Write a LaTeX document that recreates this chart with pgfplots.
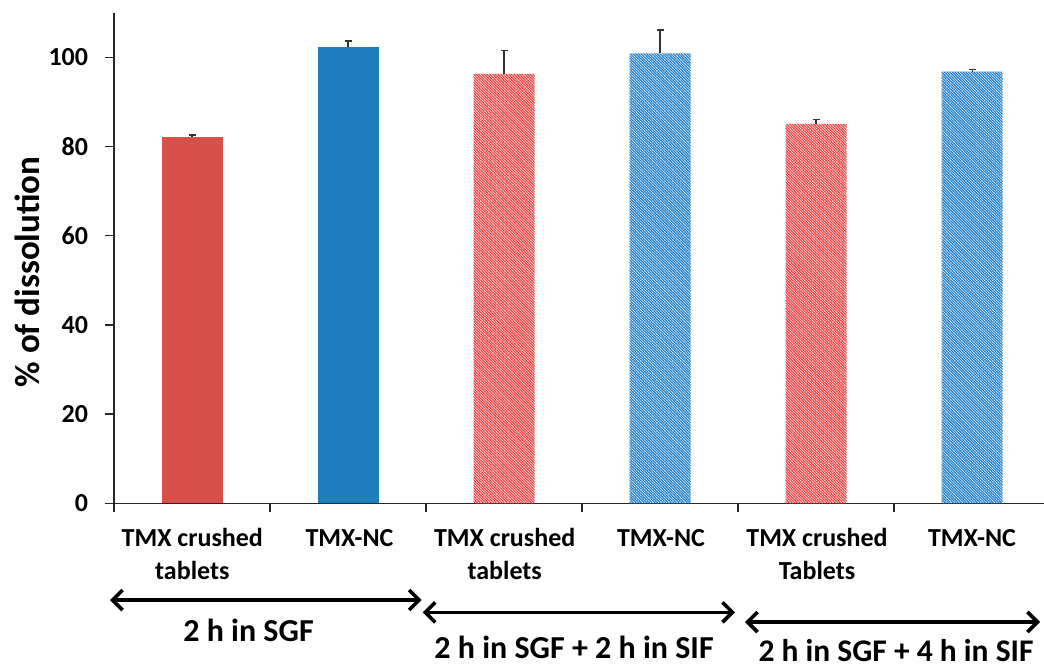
\documentclass[border=0pt]{standalone}
\usepackage{fontspec}
\setmainfont{Carlito}
\usepackage{pgfplots}
\pgfplotsset{compat=1.18}
\usetikzlibrary{arrows.meta,patterns.meta}
\definecolor{cred}{RGB}{217,80,74}
\definecolor{cblue}{RGB}{30,125,188}
\definecolor{hred}{RGB}{236,72,72}
\definecolor{hblue}{RGB}{38,130,204}
\begin{document}
\begin{tikzpicture}
\useasboundingbox (0pt,0pt) rectangle (1044pt,-670pt);
\begin{axis}[
  at={(114pt,-503.3pt)}, anchor=south west,
  scale only axis, width=930pt, height=490.6pt,
  xmin=-0.5, xmax=5.46, ymin=0, ymax=110,
  axis x line*=bottom, axis y line*=left,
  axis line style={line width=1.5pt, black!85},
  xtick={-0.5,0.5,1.5,2.5,3.5,4.5}, xticklabels={},
  ytick={0,20,40,60,80,100},
  tick align=outside, major tick length=9pt,
  tick style={line width=1.5pt, black!85},
  /pgf/number format/assume math mode=true,
  yticklabel style={font=\fontsize{26}{30}\selectfont\bfseries, inner sep=0pt, anchor=east, xshift=-16.7pt},
  ybar, bar width=61pt, bar shift=0pt,
  error bars/y dir=plus, error bars/y explicit,
  error bars/error bar style={line width=1.4pt, black!80},
  error bars/error mark options={rotate=90, line width=1.4pt, black!80, mark size=3.5pt},
  clip=false,
]
% solid red: TMX crushed tablets, 2 h in SGF
\addplot[draw=none, fill=cred] coordinates {(0,82.2) +- (0,0.4)};
% solid blue: TMX-NC, 2 h in SGF
\addplot[draw=none, fill=cblue] coordinates {(1,102.3) +- (0,1.4)};
% hatched red: TMX crushed tablets, +2 h SIF and +4 h SIF
\addplot[draw=none, pattern={Lines[angle=-45,distance=1.9pt,line width=1.3pt]}, pattern color=hred]
  coordinates {(2,96.3) +- (0,5.2) (4,85.1) +- (0,1.0)};
% hatched blue: TMX-NC, +2 h SIF and +4 h SIF
\addplot[draw=none, pattern={Lines[angle=-45,distance=1.9pt,line width=1.3pt]}, pattern color=hblue]
  coordinates {(3,100.9) +- (0,5.2) (5,96.8) +- (0,0.5)};
\end{axis}
% y label
\node[rotate=90, anchor=base, inner sep=0pt, font=\fontsize{35}{40}\selectfont\bfseries] at (39.3pt,-272pt) {\% of dissolution};
% category labels
\begin{scope}[every node/.style={anchor=base, inner sep=0pt, font=\fontsize{26}{30}\selectfont\bfseries}]
\node at (192.3pt,-546.7pt) {TMX crushed};
\node at (192.3pt,-579pt) {tablets};
\node at (349.5pt,-546.7pt) {TMX-NC};
\node at (504.7pt,-546.7pt) {TMX crushed};
\node at (504.7pt,-579pt) {tablets};
\node at (661pt,-546.7pt) {TMX-NC};
\node at (817pt,-546.7pt) {TMX crushed};
\node at (817pt,-579pt) {Tablets};
\node at (972pt,-546.7pt) {TMX-NC};
\end{scope}
% phase arrows
\begin{scope}[line width=3.6pt, black]
\draw[{Straight Barb[length=10pt,width=20pt]}-{Straight Barb[length=10pt,width=20pt]}] (110pt,-600pt) -- (421.7pt,-600pt);
\draw[{Straight Barb[length=10pt,width=20pt]}-{Straight Barb[length=10pt,width=20pt]}] (422.7pt,-612.3pt) -- (735pt,-612.3pt);
\draw[{Straight Barb[length=10pt,width=20pt]}-{Straight Barb[length=10pt,width=20pt]}] (745pt,-622pt) -- (1040pt,-622pt);
\end{scope}
\begin{scope}[every node/.style={anchor=base, inner sep=0pt, font=\fontsize{32}{38}\selectfont\bfseries}]
\node at (248.5pt,-641.7pt) {2 h in SGF};
\node at (574pt,-658.3pt) {2 h in SGF + 2 h in SIF};
\node[font=\fontsize{31.5}{36}\selectfont\bfseries] at (896pt,-661pt) {2 h in SGF + 4 h in SIF};
\end{scope}
\end{tikzpicture}
\end{document}
